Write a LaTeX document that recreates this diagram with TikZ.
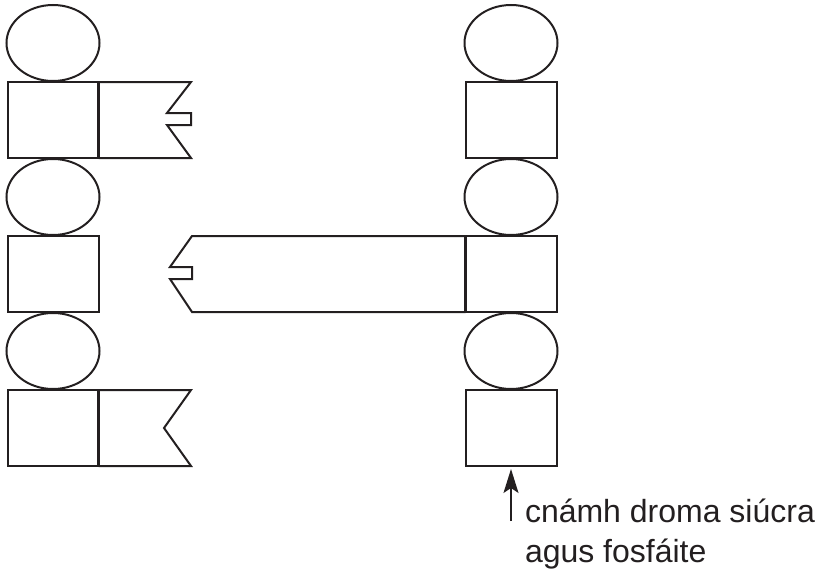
\documentclass[tikz,border=0pt]{standalone}
\usepackage{fontspec}
\setmainfont{Liberation Sans}
\usetikzlibrary{shapes.geometric,arrows.meta}
\definecolor{ink}{HTML}{231F20}
\tikzset{
  x=1pt,y=-1pt,
  sugar/.style={draw=ink,line width=2pt,minimum width=91pt,minimum height=76pt,inner sep=0pt,outer sep=0pt},
  phos/.style={draw=ink,line width=2pt,ellipse,minimum width=93pt,minimum height=76pt,inner sep=0pt,outer sep=0pt},
  base/.style={draw=ink,line width=2pt,line join=miter},
  divider/.style={draw=ink,line width=2.7pt},
  label/.style={inner sep=0pt,outer sep=0pt,anchor=base west,text=ink,font=\fontsize{32}{40}\selectfont},
}
\begin{document}
\begin{tikzpicture}
\useasboundingbox (0,0) rectangle (819,570);
\node[phos] (pa) at (53,43) {};
\node[sugar] (sa) at (53,120) {};
\node[phos] (pb) at (53,197) {};
\node[sugar] (sb) at (53,274) {};
\node[phos] (pc) at (53,351) {};
\node[sugar] (sc) at (53,428) {};
\node[phos] (qa) at (511,43) {};
\node[sugar] (ta) at (511,120) {};
\node[phos] (qb) at (511,197) {};
\node[sugar] (tb) at (511,274) {};
\node[phos] (qc) at (511,351) {};
\node[sugar] (tc) at (511,428) {};
% bases
\draw[base] (sa.north east) -- (191,82) -- (167,113) -- (191,113) -- (191,125) -- (167,125) -- (191,158) -- (sa.south east);
\draw[divider] (sa.north east) -- (sa.south east);
\draw[base] (tb.north west) -- (192,236) -- (170,267) -- (192,267) -- (192,279) -- (170,279) -- (192,312) -- (tb.south west);
\draw[divider] (tb.north west) -- (tb.south west);
\draw[base] (sc.north east) -- (191,390) -- (164,428) -- (191,466) -- (sc.south east);
\draw[divider] (sc.north east) -- (sc.south east);
% label and arrow
\node[label] (lab1) at (525,522) {cnámh droma siúcra};
\node[label] (lab2) at (525,562) {agus fosfáite};
\coordinate (tail) at (511,521);
\draw[draw=ink,line width=1.5pt,-{Stealth[length=24pt,width=15pt,inset=5pt]}] (tail) -- ([yshift=-3pt]tc.south);
\end{tikzpicture}
\end{document}
